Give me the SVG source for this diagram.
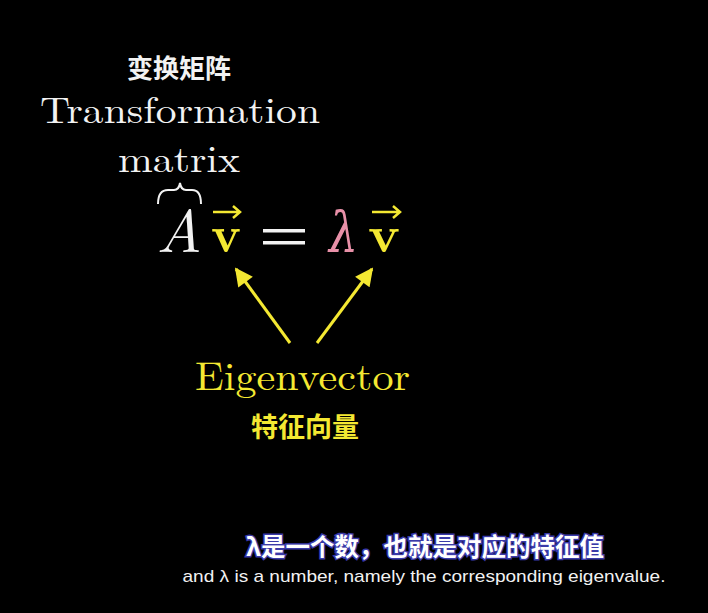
<svg xmlns="http://www.w3.org/2000/svg" width="708" height="613" viewBox="0 0 708 613">
<defs>
<style>
.serif{font-family:"Latin Modern Roman","DejaVu Serif","Liberation Serif",serif;}
.cjk{font-family:"Noto Sans CJK SC",sans-serif;font-weight:bold;}
.w{fill:#f2f2f2;}
.y{fill:#f4e832;}
.arr{stroke:#f4e832;stroke-width:3;fill:none;}
.vec{stroke:#f4e832;stroke-width:2.5;fill:none;}
</style>
<marker id="ah" viewBox="0 0 10 10" refX="9" refY="5" markerWidth="6.5" markerHeight="6" markerUnits="strokeWidth" orient="auto">
<path d="M0,0 L10,5 L0,10 z" fill="#f4e832"/>
</marker>
</defs>
<rect width="708" height="613" fill="#000"/>
<g id="label-matrix">
<text class="cjk w" x="179" y="78" font-size="26" text-anchor="middle">变换矩阵</text>
<text class="serif w" x="40" y="123" font-size="37" textLength="280" lengthAdjust="spacingAndGlyphs">Transformation</text>
<text class="serif w" x="118" y="172" font-size="38" textLength="122" lengthAdjust="spacingAndGlyphs">matrix</text>
<path d="M158,204 Q158,190 168,190 L174,190 Q179,190 180,183 Q181,190 186,190 L192,190 Q201,190 201,204" stroke="#f2f2f2" stroke-width="2" fill="none"/>
</g>
<g id="equation">
<text class="serif w" x="156" y="252" font-size="60" font-style="italic" textLength="46" lengthAdjust="spacingAndGlyphs">A</text>
<text class="serif y" x="211" y="252" font-size="52" font-weight="bold" textLength="30" lengthAdjust="spacingAndGlyphs">v</text>
<path class="vec" d="M213,212 L239,212 M233,206 L240,212 L233,218"/>
<rect x="263" y="229" width="42" height="3.5" fill="#f2f2f2"/>
<rect x="263" y="241" width="42" height="3.5" fill="#f2f2f2"/>
<text class="serif" x="329" y="252" font-size="56" font-style="italic" fill="#e890a8" textLength="29" lengthAdjust="spacingAndGlyphs">λ</text>
<text class="serif y" x="368" y="252" font-size="52" font-weight="bold" textLength="32" lengthAdjust="spacingAndGlyphs">v</text>
<path class="vec" d="M372,212 L399,212 M393,206 L400,212 L393,218"/>
</g>
<g id="connectors">
<line class="arr" x1="290" y1="343" x2="236" y2="269" marker-end="url(#ah)"/>
<line class="arr" x1="317" y1="343" x2="372" y2="269" marker-end="url(#ah)"/>
</g>
<g id="label-eigenvector">
<text class="serif y" x="195" y="390" font-size="40" textLength="215" lengthAdjust="spacingAndGlyphs">Eigenvector</text>
<text class="cjk y" x="305" y="437" font-size="27" text-anchor="middle">特征向量</text>
</g>
<g id="subtitles">
<text class="cjk" x="425" y="556" font-size="24.5" text-anchor="middle" fill="#ffffff" stroke="#3a3aa8" stroke-width="3" paint-order="stroke">λ是一个数，也就是对应的特征值</text>
<text x="424" y="582" font-size="17" text-anchor="middle" fill="#f2f2f2" font-family="Liberation Sans, Arial, sans-serif" textLength="483" lengthAdjust="spacingAndGlyphs">and λ is a number, namely the corresponding eigenvalue.</text>
</g>
</svg>
